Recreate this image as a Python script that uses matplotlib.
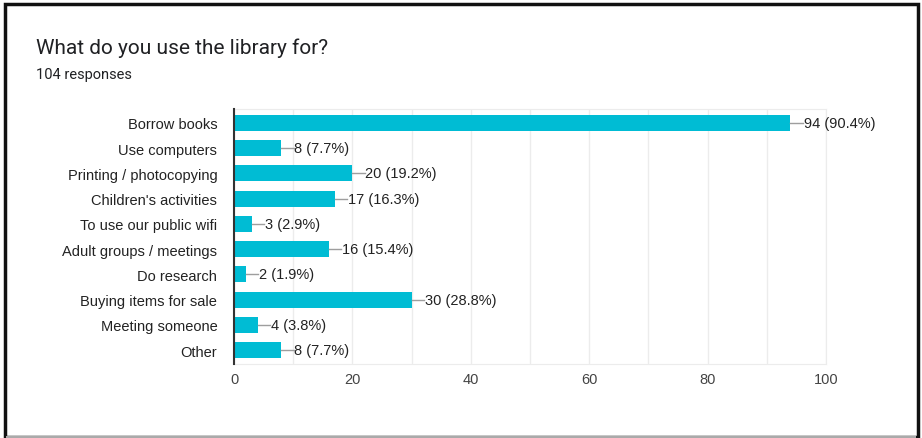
import matplotlib
matplotlib.use("Agg")
import matplotlib.pyplot as plt
from matplotlib.patches import Rectangle

# data
categories = ["Borrow books", "Use computers", "Printing / photocopying",
              "Children's activities", "To use our public wifi",
              "Adult groups / meetings", "Do research", "Buying items for sale",
              "Meeting someone", "Other"]
counts = [94, 8, 20, 17, 3, 16, 2, 30, 4, 8]
percents = [90.4, 7.7, 19.2, 16.3, 2.9, 15.4, 1.9, 28.8, 3.8, 7.7]
total = 104

plt.rcParams['font.family'] = ['Liberation Sans', 'DejaVu Sans']

fig = plt.figure(figsize=(9.22, 4.39), dpi=100)
W, H = 922, 439

# plot area in pixels: x 234..826, y 110..365
ax = fig.add_axes([234 / W, 1 - 365 / H, (826 - 234) / W, (365 - 110) / H])

y = list(range(len(categories)))
ax.barh(y, counts, height=0.64, color='#00bcd4', zorder=3)

for yi, c, p in zip(y, counts, percents):
    ax.plot([c, c + 2.1], [yi, yi], color='#9e9e9e', lw=1, zorder=3)
    ax.text(c + 2.2, yi, f"{c} ({p}%)", va='center', ha='left',
            fontsize=10.5, color='#222222')

ax.set_ylim(len(categories) - 0.45, -0.55)
ax.set_xlim(0, 100)
ax.set_yticks(y)
ax.set_yticklabels(categories, fontsize=10.5, color='#222222')
ax.set_xticks([0, 20, 40, 60, 80, 100])
ax.set_xticks([10, 30, 50, 70, 90], minor=True)
ax.tick_params(axis='x', labelsize=10.5, labelcolor='#444444', length=0, pad=6)
ax.tick_params(axis='x', which='minor', length=0)
ax.tick_params(axis='y', length=0, pad=12)

ax.grid(axis='x', which='both', color='#ececec', lw=1, zorder=0)
for s in ['top', 'bottom', 'right']:
    ax.spines[s].set_color('#ececec')
ax.spines['left'].set_color('#333333')
ax.spines['left'].set_linewidth(1.5)
ax.spines['left'].set_zorder(4)

fig.text(36 / W, 1 - 48 / H, "What do you use the library for?",
         fontsize=15, color='#202124', va='center', ha='left',
         family=['Roboto', 'DejaVu Sans'])
fig.text(36 / W, 1 - 75 / H, f"{total} responses",
         fontsize=10.5, color='#202124', va='center', ha='left',
         family=['Roboto', 'DejaVu Sans'])

# frame around the screenshot
fig.patches.append(Rectangle((4.5 / W, 1 - 437.5 / H), (917.5 - 4.5) / W, (437.5 - 5) / H,
                             transform=fig.transFigure, fill=False,
                             edgecolor='#111111', lw=2.5))
fig.patches.append(Rectangle((6 / W, 0.5 / H), (916 - 6) / W, 1.5 / H,
                             transform=fig.transFigure, color='#aaaaaa', lw=0))

fig.savefig('out.png', dpi=100)
